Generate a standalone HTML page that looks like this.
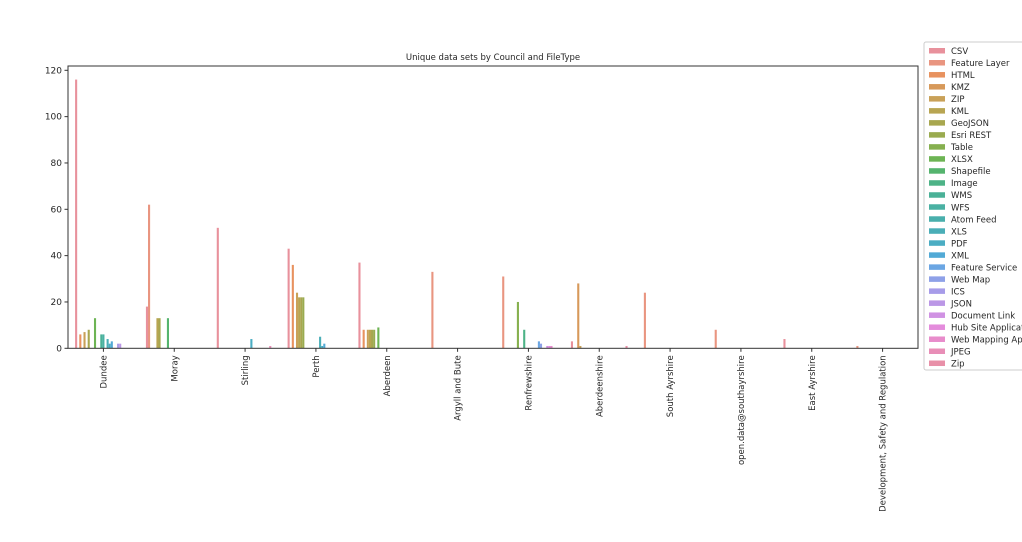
<!DOCTYPE html>
<html><head><meta charset="utf-8"><style>
body{margin:0;background:#fff;width:1022px;height:538px;overflow:hidden;font-family:"DejaVu Sans","Liberation Sans",sans-serif}
svg text{font-family:"DejaVu Sans","Liberation Sans",sans-serif;fill:#262626}
</style></head><body>
<svg id="chart" width="1022" height="538" xmlns="http://www.w3.org/2000/svg"></svg>
<script>
const councils=["Dundee","Moray","Stirling","Perth","Aberdeen","Argyll and Bute","Renfrewshire","Aberdeenshire","South Ayrshire","open.data@southayrshire","East Ayrshire","Development, Safety and Regulation"];
const fileTypes=["CSV","Feature Layer","HTML","KMZ","ZIP","KML","GeoJSON","Esri REST","Table","XLSX","Shapefile","Image","WMS","WFS","Atom Feed","XLS","PDF","XML","Feature Service","Web Map","ICS","JSON","Document Link","Hub Site Application","Web Mapping App","JPEG","Zip"];
const legendLabels=["CSV","Feature Layer","HTML","KMZ","ZIP","KML","GeoJSON","Esri REST","Table","XLSX","Shapefile","Image","WMS","WFS","Atom Feed","XLS","PDF","XML","Feature Service","Web Map","ICS","JSON","Document Link","Hub Site Applicati","Web Mapping App","JPEG","Zip"];
const yTicks=[0,20,40,60,80,100,120];
// [council index, filetype index, count]
const counts=[
[0,0,116],[0,2,6],[0,4,7],[0,6,8],[0,9,13],[0,12,6],[0,13,6],[0,15,4],[0,16,2],[0,17,3],[0,20,2],[0,21,2],
[1,0,18],[1,1,62],[1,5,13],[1,6,13],[1,10,13],
[2,0,52],[2,16,4],[2,25,1],
[3,0,43],[3,2,36],[3,4,24],[3,5,22],[3,6,22],[3,7,22],[3,15,5],[3,16,1],[3,17,2],
[4,0,37],[4,2,8],[4,4,8],[4,5,8],[4,6,8],[4,7,8],[4,9,9],
[5,1,33],
[6,1,31],[6,8,20],[6,11,8],[6,18,3],[6,19,2],[6,22,1],[6,23,1],[6,24,1],
[7,0,3],[7,3,28],[7,4,1],[7,26,1],
[8,1,24],
[9,1,8],
[10,0,4],
[11,1,1]
];
const palette=["#e8919c","#e99580","#e8925f","#d7995a","#c9a158","#b8a552","#a8a74f","#9aab4f","#86b04f","#6db454","#55b46e","#4db387","#4ab197","#4ab1a3","#49afac","#4aaeb7","#4badc3","#52aad6","#6ba6e3","#8ea1e8","#a79ce9","#bb97e6","#d092e3","#e48cdc","#e88ccb","#e88eb7","#e890a8"];
const NS="http://www.w3.org/2000/svg";
const svg=document.getElementById('chart');
function mk(t,a,p){const e=document.createElementNS(NS,t);for(const k in a)e.setAttribute(k,a[k]);(p||svg).appendChild(e);return e;}
const L=68,R=918,T=66,B=348.3;
const gw=(R-L)/councils.length;
const bw=gw*0.8/fileTypes.length;
function xCenter(i){return L+gw*(i+0.5);}
function xBar(ci,fi){return xCenter(ci)-gw*0.4+fi*bw;}
function y(v){return B-v*(B-70.3)/120;}
function color(i){return palette[i];}
const ti=mk('text',{x:493,y:60,'font-size':8.5,'text-anchor':'middle'});


ti.textContent='Unique data sets by Council and FileType';
counts.forEach(([ci,fi,v])=>{
 const r=mk('rect',{x:xBar(ci,fi),y:y(v),width:bw,height:B-y(v),fill:color(fi)});
 
 
});
const fr=mk('rect',{x:L,y:T,width:R-L,height:B-T,fill:'none',stroke:'#333','stroke-width':1});


yTicks.forEach(t=>{
 const yy=y(t);
 const ln=mk('line',{x1:L-3.5,x2:L,y1:yy,y2:yy,stroke:'#333'});
 
 
 const tx=mk('text',{x:L-6,y:yy+3,'font-size':9,'text-anchor':'end'});
 
 
 tx.textContent=t;
});
councils.forEach((c,i)=>{
 const xx=xCenter(i);
 const ln=mk('line',{x1:xx,x2:xx,y1:B,y2:B+3.5,stroke:'#333'});
 
 
 const tx=mk('text',{x:0,y:0,'font-size':8.5,'text-anchor':'end',transform:`translate(${xx+3},${B+7}) rotate(-90)`});
 
 
 tx.textContent=c;
});
const lg=mk('g',{});


const lb=mk('rect',{x:924,y:42,width:110,height:328,rx:2,fill:'#fff',stroke:'#ccc'},lg);


legendLabels.forEach((s,i)=>{
 const yy=51+i*12.02;
 const g=mk('g',{},lg);
 
 
 mk('rect',{x:929,y:yy-3,width:16,height:5.5,fill:color(i)},g);
 const tx=mk('text',{x:951,y:yy+3,'font-size':8.5},g);
 tx.textContent=s;
});
</script>
</body></html>
